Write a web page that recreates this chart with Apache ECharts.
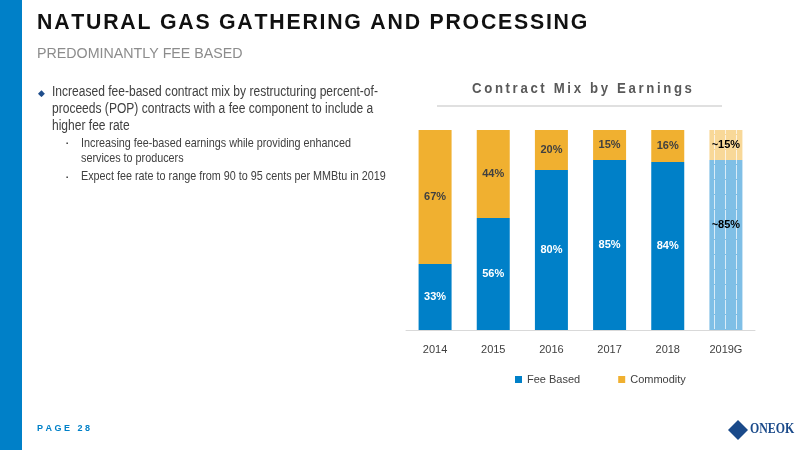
<!DOCTYPE html>
<html><head><meta charset="utf-8">
<script src="https://cdn.jsdelivr.net/npm/echarts@6/dist/echarts.min.js"></script>
<style>html,body{margin:0;padding:0;background:#fff}#c{width:800px;height:450px}</style>
</head><body><div id="c"></div>
<script>
const categories = ['2014','2015','2016','2017','2018','2019G'];
const feeBased = [33,56,80,85,84,85];
const commodity = [67,44,20,15,16,15];
const feeLabels = ['33%','56%','80%','85%','84%','~85%'];
const comLabels = ['67%','44%','20%','15%','16%','~15%'];

const chart = echarts.init(document.getElementById('c'));
const F = 'Liberation Sans, sans-serif';
const sp = (s, g) => s.split('').join(g);
function mk(vals, labels, color, light, name, labelColor){
  return {
    name, type:'bar', stack:'t', barWidth:33, itemStyle:{color},
    data: vals.map((v,i)=>{
      const last = i===vals.length-1;
      return {value:v,
        itemStyle:{color: last?light:color,
          decal: last?{symbol:'rect',symbolSize:1,dashArrayX:[[0,10,1,0]],dashArrayY:[14,1],color:'rgba(255,255,255,0.7)'}:undefined},
        label:{formatter:labels[i], color: last?'#000':labelColor,
          position: last && name==='Fee Based' ? ['50%','35%'] : 'inside', align:'center'}};
    }),
    label:{show:true,fontFamily:F,fontSize:11,fontWeight:'bold'}
  };
}
function T(x,y,text,font,fill,sx,lh){return {type:'text',x,y,scaleX:sx||1,style:{text,font,fill,lineHeight:lh}};}
chart.setOption({
  animation:false,
  legend:{top:369,left:510,itemWidth:7,itemHeight:7,icon:'rect',itemGap:38,
    textStyle:{fontFamily:F,fontSize:11,color:'#404040'},
    data:['Fee Based','Commodity']},
  grid:{left:406,right:45,top:130,bottom:120},
  xAxis:{type:'category',data:categories,axisTick:{show:false},
    axisLine:{lineStyle:{color:'#d9d9d9'}},
    axisLabel:{fontFamily:F,fontSize:11,color:'#404040',margin:14}},
  yAxis:{type:'value',min:0,max:100,show:false},
  series:[mk(feeBased,feeLabels,'#0080c8','#7fbfe6','Fee Based','#fff'),
          mk(commodity,comLabels,'#f0b030','#f8d898','Commodity','#404040')],
  graphic:[
    {type:'rect',shape:{x:0,y:0,width:22,height:450},style:{fill:'#0080c8'}},
    T(37,12,sp('NATURAL GAS GATHERING AND PROCESSING','\u200a'),'bold 22px Liberation Sans','#111',0.967),
    T(37,46,'PREDOMINANTLY FEE BASED','15px Liberation Sans','#8c8c8c',0.95),
    T(38,89,'◆','9px Liberation Sans','#1f4e8c'),
    T(52,84,'Increased fee-based contract mix by restructuring percent-of-\nproceeds (POP) contracts with a fee component to include a\nhigher fee rate','14px '+F,'#404040',0.86,17),
    T(66,140,'▪','6px Liberation Sans','#404040'),
    T(81,136,'Increasing fee-based earnings while providing enhanced\nservices to producers','13px '+F,'#404040',0.83,15),
    T(66,174,'▪','6px Liberation Sans','#404040'),
    T(81,170,'Expect fee rate to range from 90 to 95 cents per MMBtu in 2019','13px '+F,'#404040',0.83),
    T(472,81,sp('Contract Mix by Earnings','\u2009'),'bold 15px Liberation Sans','#595959',0.88),
    {type:'line',shape:{x1:437,y1:106,x2:722,y2:106},style:{stroke:'#e0e0e0',lineWidth:2}},
    T(37,424,'P A G E   2 8','bold 9px Liberation Sans','#0080c8'),
    {type:'polygon',shape:{points:[[728,430],[738,420],[748,430],[738,440]]},style:{fill:'#1a4a8a'}},
    T(750,422,'ONEOK','bold 14px Liberation Serif','#1a4a8a',0.85)
  ]
});
</script></body></html>
